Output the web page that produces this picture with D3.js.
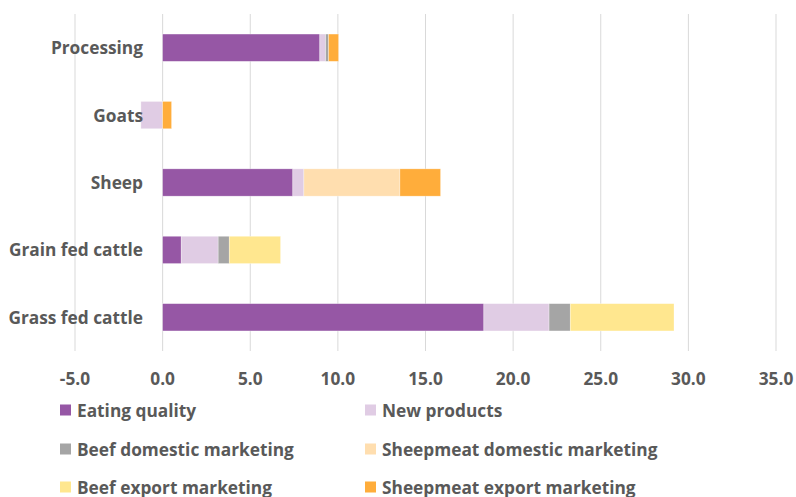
<!DOCTYPE html>
<html>
<head>
<meta charset="utf-8">
<script src="https://cdn.jsdelivr.net/npm/d3@7"></script>
<style>
  html, body { margin: 0; padding: 0; background: #fff; }
  svg { display: block; font-family: "Open Sans", "Liberation Sans", Arial, sans-serif; }
</style>
</head>
<body>
<svg id="chart" width="796" height="497"></svg>
<script>
// Categories, top to bottom
const categories = ["Processing", "Goats", "Sheep", "Grain fed cattle", "Grass fed cattle"];

// Series names and colours (legend order)
const seriesNames = [
  "Eating quality",
  "New products",
  "Beef domestic marketing",
  "Sheepmeat domestic marketing",
  "Beef export marketing",
  "Sheepmeat export marketing"
];
const seriesColors = ["#9657A5", "#E0CCE4", "#A5A5A5", "#FFDEAF", "#FFE78F", "#FFAD3B"];

// Values per series, in category order
const eatingQuality        = [8.97, 0,     7.43, 1.06, 18.33];
const newProducts          = [0.33, -1.24, 0.63, 2.11, 3.72];
const beefDomestic         = [0.17, 0,     0,    0.63, 1.21];
const sheepmeatDomestic    = [0,    0,     5.48, 0,    0];
const beefExport           = [0,    0,     0,    2.93, 5.92];
const sheepmeatExport      = [0.57, 0.51,  2.32, 0,    0];

// Axis ticks
const tickValues = [-5, 0, 5, 10, 15, 20, 25, 30, 35];

const seriesValues = [eatingQuality, newProducts, beefDomestic, sheepmeatDomestic, beefExport, sheepmeatExport];
const rows = categories.map((c, i) => {
  const r = { category: c };
  seriesNames.forEach((s, j) => { r[s] = seriesValues[j][i]; });
  return r;
});

const svg = d3.select("#chart");
const textColor = "#595959";
const fontSize = 17.3;

const x = d3.scaleLinear().domain([-5, 35]).range([75, 776]);
const y = d3.scaleBand().domain(categories).range([14, 351]).paddingInner(0.595).paddingOuter(0.2975);

// Gridlines
svg.append("g")
  .selectAll("line")
  .data(tickValues)
  .join("line")
  .attr("x1", d => x(d)).attr("x2", d => x(d))
  .attr("y1", 14).attr("y2", 351)
  .attr("stroke", "#D9D9D9")
  .attr("stroke-width", 1);

// Stacked bars (diverging for negative values)
const stacked = d3.stack().keys(seriesNames).offset(d3.stackOffsetDiverging)(rows);

svg.append("g")
  .selectAll("g")
  .data(stacked)
  .join("g")
  .attr("fill", (d, i) => seriesColors[i])
  .selectAll("rect")
  .data(d => d)
  .join("rect")
  .attr("x", d => x(Math.min(d[0], d[1])))
  .attr("width", d => Math.abs(x(d[1]) - x(d[0])))
  .attr("y", d => y(d.data.category))
  .attr("height", y.bandwidth())
  .attr("stroke", "#fff")
  .attr("stroke-opacity", 0.5)
  .attr("stroke-width", 0.6);

// X axis labels (plain hyphen for negatives)
const fmt = d => (d < 0 ? "-" : "") + Math.abs(d).toFixed(1);
svg.append("g")
  .selectAll("text")
  .data(tickValues)
  .join("text")
  .attr("x", d => x(d))
  .attr("y", 378)
  .attr("text-anchor", "middle")
  .attr("dominant-baseline", "central")
  .attr("fill", textColor)
  .attr("font-size", fontSize)
  .attr("font-weight", "bold")
  .text(fmt);

// Category labels
svg.append("g")
  .selectAll("text")
  .data(categories)
  .join("text")
  .attr("x", 143)
  .attr("y", d => y(d) + y.bandwidth() / 2)
  .attr("text-anchor", "end")
  .attr("dominant-baseline", "central")
  .attr("fill", textColor)
  .attr("font-size", fontSize)
  .attr("font-weight", "bold")
  .text(d => d);

// Legend: two columns, three rows
const legend = svg.append("g")
  .selectAll("g")
  .data(seriesNames)
  .join("g")
  .attr("transform", (d, i) => `translate(${i % 2 === 0 ? 60 : 365},${[410, 449, 487][Math.floor(i / 2)]})`);

legend.append("rect")
  .attr("x", 0).attr("y", -5.5)
  .attr("width", 11).attr("height", 11)
  .attr("fill", (d, i) => seriesColors[i]);

legend.append("text")
  .attr("x", 17)
  .attr("y", 0)
  .attr("dominant-baseline", "central")
  .attr("fill", textColor)
  .attr("font-size", fontSize)
  .attr("font-weight", "bold")
  .text(d => d);
</script>
</body>
</html>
